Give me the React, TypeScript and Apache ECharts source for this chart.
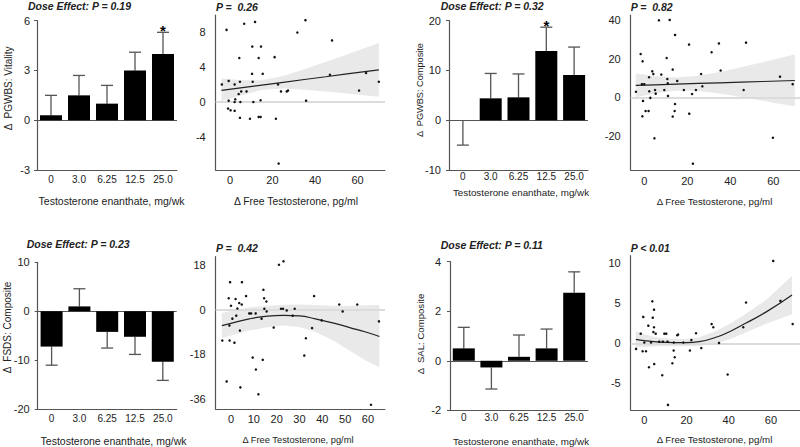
import React, { useEffect, useRef } from "react";
import * as echarts from "echarts";

const FONT = '"Liberation Sans", Arial, Helvetica, sans-serif';

// ---------- bar panels ----------
const doseLabels = ["0", "3.0", "6.25", "12.5", "25.0"];

const vitalityMean = [0.3, 1.5, 1.0, 3.0, 4.0];
const vitalityErr = [1.5, 2.7, 2.1, 4.1, 5.3];
const vitalitySig = [0, 0, 0, 0, 1];

const pgwbsMean = [0, 4.4, 4.6, 13.9, 9.1];
const pgwbsErr = [-5.0, 9.4, 9.3, 18.7, 14.7];
const pgwbsSig = [0, 0, 0, 1, 0];

const fsdsMean = [-7.2, 1.0, -4.2, -5.2, -10.3];
const fsdsErr = [-11.0, 4.6, -7.5, -8.8, -14.1];
const fsdsSig = [0, 0, 0, 0, 0];

const salMean = [0.5, -0.27, 0.16, 0.5, 2.75];
const salErr = [1.35, -1.14, 1.04, 1.28, 3.59];
const salSig = [0, 0, 0, 0, 0];

// ---------- scatter panels ----------
const vitalityPts = [
  [-1.6, 8.2], [6.7, 8.9], [11.8, 9.1], [35.5, 9.3], [31.7, 7.9], [48, 7.0], [10.5, 6.3], [14.6, 6.3],
  [4.4, 5.0], [13.5, 5.0], [21, 5.1], [10.4, 3.2], [15.4, 3.2], [47, 3.1], [64, 3.3], [-3.8, 2.0],
  [-0.6, 2.4], [2.2, 2.0], [4.7, 2.3], [10.7, 2.3], [22.6, 2.0], [24, 1.2], [26.7, 1.2], [27.3, 1.3],
  [5.3, 1.2], [7.8, 1.2], [4.1, 0.9], [2.5, 0.3], [-0.6, 0.15], [2.2, 0], [4.9, 0], [11, 0],
  [14.4, 0.2], [35.8, 0.15], [-0.9, -0.75], [0.3, -0.95], [2.2, -1.0], [4.7, -1.8], [9.4, -1.9],
  [13.5, -1.7], [14.4, -1.7], [21.6, -1.9], [22.9, -7.0], [60.7, 1.3], [70, 2.3],
];
const vitalityFitX = [-4, 5, 15, 25, 35, 45, 55, 70];
const vitalityFit = [1.32, 1.61, 1.92, 2.24, 2.56, 2.87, 3.19, 3.66];
const vitalityLo = [0.1, 0.74, 1.36, 1.53, 1.4, 1.2, 0.97, 0.61];
const vitalityHi = [2.7, 2.48, 2.48, 2.95, 3.72, 4.54, 5.41, 6.71];

const compositePts = [
  [-3.9, 2.9], [-1.7, 22.5], [-0.8, 18.7], [-1.1, 6.8], [0, 6.8], [-0.9, -9.9], [-0.6, -1.9], [0.6, -7.1],
  [2.0, -7.1], [2.2, 10.4], [2.3, 3.1], [2.8, -0.3], [3.7, 13.5], [4.2, 12.1], [5.0, 3.8], [4.7, -21.3],
  [5.3, 1.9], [6.8, 40], [7.9, 11.8], [9.3, 3.8], [10.4, 20.4], [10.7, 9.5], [10.9, 7.3], [11, 0.7],
  [11.8, 40.2], [13.2, 14.4], [13.2, -10], [14.3, 32.4], [14.3, -3.5], [14.1, -7.1], [15.3, 8.5],
  [18.4, 3.8], [20.8, 27.4], [20.9, -8.5], [22.2, 1.7], [22.6, -34.5], [24, 3.8], [26.4, 12.1],
  [27, 5.7], [31.3, 23.4], [34.7, 28], [35.5, 13.9], [46.2, 3.8], [47.3, 28.4], [59.8, -21],
  [63.1, 10.7], [69, 6.8],
];
const compositeFitX = [-4, 5, 15, 25, 35, 45, 55, 70];
const compositeFit = [6.19, 6.5, 6.84, 7.19, 7.53, 7.87, 8.21, 8.72];
const compositeLo = [-0.01, 2.0, 3.38, 3.24, 1.93, 0.17, -1.79, -4.78];
const compositeHi = [12.39, 11.0, 10.3, 11.14, 13.13, 15.57, 18.21, 22.22];

const fsdsPts = [
  [-3.8, -12.4], [-1.9, -28.9], [-1, 4.6], [-0.7, -6.4], [-0.6, -12.4], [-0.4, 11.1], [0, 1.6],
  [0.6, -3.6], [1.5, -13.3], [2, 4.3], [2.3, -2.4], [2.8, 0.5], [3.6, 2.7], [3.9, -8.4], [4.1, -31.3],
  [4.7, 2.1], [4.8, 11.1], [6.6, 5.5], [8.0, -1.5], [8.8, -1.5], [9.5, -19.3], [10.8, -1.5],
  [10.9, -24.1], [12, -34.1], [13.4, -3.6], [13.9, -20.2], [14.2, 8.0], [14.5, 4.6], [14.6, 0.4],
  [15.5, 3.3], [15.6, -0.7], [18.7, -7.2], [21, 18.1], [23, 19.5], [21.9, 0.4], [22.8, 0.4],
  [24.4, -0.3], [27, -2.4], [27.9, 0.4], [32.1, -18.5], [32.8, -11.5], [35.5, -7.4], [36.4, 5.5],
  [39.7, -4.3], [47.4, 2.1], [48.9, -0.7], [55.3, 2.1], [61.3, -38.3], [64.8, -4.7],
];
const fsdsFitX = [-4, 0, 8, 16, 23, 30, 37, 45, 52, 59, 65];
const fsdsFit = [-6.4, -5.5, -3.7, -2.6, -2.3, -2.5, -3.7, -5.4, -7.2, -9.0, -10.8];
const fsdsLo = [-11.5, -10.4, -8.4, -7.1, -6.4, -7.0, -9.0, -12.5, -16.5, -20.5, -23.2];
const fsdsHi = [-1.3, -0.4, 0.9, 1.6, 2.0, 2.1, 1.9, 1.6, 1.6, 1.8, 1.9];

const salPts = [
  [-3.9, -0.7], [-1.7, 1.2], [-0.8, -1], [-0.5, 3.3], [0, 0.1], [0.8, -1], [1.9, 2.2], [2.2, -3],
  [3.2, 0.1], [3.8, 5.25], [4, 3.2], [4.3, 1.4], [4.6, 4.2], [4.6, 2.0], [4.7, -2.6], [5.4, 1.2],
  [7.1, 0.2], [8.5, -4], [8.8, 0.2], [9.5, 1.2], [10.4, 1.2], [11, 0.2], [11.2, -7.7], [13.3, -2.5],
  [13.9, -0.9], [14.4, -1.75], [14, 0.1], [15.6, 1.0], [16, 1.1], [18.5, 0.1], [21.6, -0.9],
  [22.3, 0.4], [24.5, 1.25], [27, -0.6], [31.9, 2.4], [32.7, 2.0], [35.4, 0.05], [39.5, -3.9],
  [46.9, 2.0], [48.2, 5.1], [61.1, 10.3], [64.5, 5.3], [70.3, 2.4],
];
const salFitX = [-4, 0, 6, 14, 20, 26, 34, 42, 48, 58, 70];
const salFit = [0.5, 0.33, 0.17, 0.08, 0.08, 0.2, 0.75, 1.67, 2.5, 3.96, 6.04];
const salLo = [-0.5, -0.47, -0.38, -0.37, -0.37, -0.35, -0.05, 0.67, 1.35, 2.46, 3.64];
const salHi = [1.5, 1.13, 0.72, 0.53, 0.53, 0.75, 1.55, 2.67, 3.65, 5.46, 8.44];

// ---------- texts ----------
const barXTitle = "Testosterone enanthate, mg/wk";
const scatterXTitle = "Δ Free Testosterone, pg/ml";

const AXIS = "#555";
const TEXT = "#222";

type BarCfg = {
  grid: { left: number; top: number; width: number; height: number };
  mean: number[]; err: number[]; sig: number[];
  yMin: number; yMax: number; yInt: number; xMargin: number; yMargin: number;
};
type ScatCfg = {
  grid: { left: number; top: number; width: number; height: number };
  pts: number[][]; fx: number[]; fy: number[]; lo: number[]; hi: number[];
  xMin: number; xMax: number; yMin: number; yMax: number;
  xTicks: number[]; yTicks: number[]; smooth: boolean; xMargin: number;
};

const barPanels: BarCfg[] = [
  { grid: { left: 37, top: 20.7, width: 140, height: 149.3 }, mean: vitalityMean, err: vitalityErr, sig: vitalitySig, yMin: -3, yMax: 6, yInt: 3, xMargin: 4.5, yMargin: 7 },
  { grid: { left: 449, top: 20.7, width: 139, height: 149.3 }, mean: pgwbsMean, err: pgwbsErr, sig: pgwbsSig, yMin: -10, yMax: 20, yInt: 10, xMargin: 1.5, yMargin: 8 },
  { grid: { left: 37.7, top: 262.3, width: 139, height: 147 }, mean: fsdsMean, err: fsdsErr, sig: fsdsSig, yMin: -20, yMax: 10, yInt: 10, xMargin: 4, yMargin: 8 },
  { grid: { left: 450, top: 261.7, width: 138, height: 148.6 }, mean: salMean, err: salErr, sig: salSig, yMin: -2, yMax: 4, yInt: 2, xMargin: 2.5, yMargin: 9 },
];

const scatterPanels: ScatCfg[] = [
  { grid: { left: 215.7, top: 15, width: 169.3, height: 155 }, pts: vitalityPts, fx: vitalityFitX, fy: vitalityFit, lo: vitalityLo, hi: vitalityHi, xMin: -6.7, xMax: 72.9, yMin: -7.73, yMax: 9.89, xTicks: [0, 20, 40, 60], yTicks: [-4, 0, 4, 8], smooth: false, xMargin: 4.5 },
  { grid: { left: 630.7, top: 15, width: 172.3, height: 155 }, pts: compositePts, fx: compositeFitX, fy: compositeFit, lo: compositeLo, hi: compositeHi, xMin: -6.33, xMax: 73.8, yMin: -37.77, yMax: 42.75, xTicks: [0, 20, 40, 60], yTicks: [-20, 0, 20, 40], smooth: false, xMargin: 5 },
  { grid: { left: 215.7, top: 256.7, width: 169.3, height: 152.6 }, pts: fsdsPts, fx: fsdsFitX, fy: fsdsFit, lo: fsdsLo, hi: fsdsHi, xMin: -6.7, xMax: 67.45, yMin: -40.14, yMax: 21.36, xTicks: [0, 10, 20, 30, 40, 50, 60], yTicks: [-36, -18, 0, 18], smooth: true, xMargin: 4.5 },
  { grid: { left: 630.7, top: 255.7, width: 172.3, height: 154.3 }, pts: salPts, fx: salFitX, fy: salFit, lo: salLo, hi: salHi, xMin: -6.45, xMax: 75.2, yMin: -8.34, yMax: 10.95, xTicks: [0, 20, 40, 60], yTicks: [-5, 0, 5, 10], smooth: true, xMargin: 4.5 },
];

type T = { text: string; x: number; y: number; size: number; bold?: boolean; rot?: boolean; align?: string };
const texts: T[] = [
  { text: "Dose Effect: P = 0.19", x: 28, y: 6, size: 10.5, bold: true, align: "left" },
  { text: "Dose Effect: P = 0.32", x: 440.7, y: 6, size: 10.5, bold: true, align: "left" },
  { text: "Dose Effect: P = 0.23", x: 26.7, y: 244, size: 10.5, bold: true, align: "left" },
  { text: "Dose Effect: P = 0.11", x: 440.7, y: 245, size: 10.5, bold: true, align: "left" },
  { text: "P =  0.26", x: 216, y: 6.5, size: 10.5, bold: true, align: "left" },
  { text: "P =  0.82", x: 630.7, y: 6.5, size: 10.5, bold: true, align: "left" },
  { text: "P =  0.42", x: 216, y: 248.3, size: 10.5, bold: true, align: "left" },
  { text: "P < 0.01", x: 630.7, y: 248.3, size: 10.5, bold: true, align: "left" },
  { text: barXTitle, x: 111.5, y: 201, size: 10.5 },
  { text: barXTitle, x: 521, y: 192.7, size: 9.8 },
  { text: barXTitle, x: 113.5, y: 441, size: 10.5 },
  { text: barXTitle, x: 521, y: 441, size: 9.8 },
  { text: scatterXTitle, x: 296, y: 201, size: 10.4 },
  { text: scatterXTitle, x: 714.5, y: 201, size: 9.7 },
  { text: scatterXTitle, x: 298, y: 440, size: 9.3 },
  { text: scatterXTitle, x: 714.5, y: 439, size: 9.7 },
  { text: "Δ  PGWBS: Vitality", x: 8.3, y: 88.3, size: 10, rot: true },
  { text: "Δ  PGWBS: Composite", x: 419.5, y: 90, size: 9.2, rot: true },
  { text: "Δ  FSDS: Composite", x: 7.3, y: 327.5, size: 10, rot: true },
  { text: "Δ  SAL: Composite", x: 420.7, y: 334, size: 9.6, rot: true },
];

function buildOption() {
  const grid: any[] = [];
  const xAxis: any[] = [];
  const yAxis: any[] = [];
  const series: any[] = [];

  barPanels.forEach((p) => {
    const i = grid.length;
    grid.push({ ...p.grid, containLabel: false, outerBoundsMode: "none" });
    xAxis.push({
      gridIndex: i, type: "category", data: doseLabels,
      axisLine: { onZero: false, lineStyle: { color: AXIS, width: 1.2 } },
      axisTick: { show: false },
      axisLabel: { color: TEXT, fontSize: 10, fontFamily: FONT, margin: p.xMargin, interval: 0 },
      splitLine: { show: false },
    });
    yAxis.push({
      gridIndex: i, type: "value", min: p.yMin, max: p.yMax, interval: p.yInt,
      axisLine: { show: true, lineStyle: { color: AXIS, width: 1.2 } },
      axisTick: { show: true, length: 3, lineStyle: { color: AXIS } },
      axisLabel: { color: TEXT, fontSize: 11, fontFamily: FONT, margin: p.yMargin },
      splitLine: { show: false },
    });
    series.push({
      type: "bar", xAxisIndex: i, yAxisIndex: i, data: p.mean, barWidth: 22,
      itemStyle: { color: "#000" }, z: 3,
      markLine: {
        silent: true, symbol: "none", z: 2, label: { show: false },
        lineStyle: { color: AXIS, width: 1.2, type: "solid" },
        data: [{ yAxis: 0 }],
      },
    });
    const err = p.err, sig = p.sig;
    series.push({
      type: "custom", xAxisIndex: i, yAxisIndex: i, z: 2,
      data: p.mean.map((m, k) => [k, m, err[k], sig[k]]),
      encode: { x: 0, y: [1, 2] },
      renderItem: (params: any, api: any) => {
        const k = api.value(0), m = api.value(1), e = api.value(2), s = api.value(3);
        const a = api.coord([k, m]);
        const b = api.coord([k, e]);
        const st = { stroke: "#555", lineWidth: 1.3 };
        const children: any[] = [
          { type: "line", shape: { x1: a[0], y1: a[1], x2: b[0], y2: b[1] }, style: st },
          { type: "line", shape: { x1: b[0] - 6, y1: b[1], x2: b[0] + 6, y2: b[1] }, style: st },
        ];
        if (s) {
          children.push({
            type: "text", x: b[0], y: b[1] + 5.5,
            style: { text: "*", fill: "#000", fontSize: 15, fontWeight: "bold", fontFamily: FONT, align: "center", verticalAlign: "bottom" },
          });
        }
        return { type: "group", children };
      },
    });
  });

  scatterPanels.forEach((p) => {
    const i = grid.length;
    grid.push({ ...p.grid, containLabel: false, outerBoundsMode: "none" });
    xAxis.push({
      gridIndex: i, type: "value", min: p.xMin, max: p.xMax,
      axisLine: { onZero: false, lineStyle: { color: AXIS, width: 1.2 } },
      axisTick: { show: false },
      axisLabel: { color: TEXT, fontSize: 11, fontFamily: FONT, margin: p.xMargin, customValues: p.xTicks, showMinLabel: true, showMaxLabel: true, hideOverlap: false },
      splitLine: { show: false },
    });
    yAxis.push({
      gridIndex: i, type: "value", min: p.yMin, max: p.yMax,
      axisLine: { show: true, onZero: false, lineStyle: { color: AXIS, width: 1.2 } },
      axisTick: { show: false },
      axisLabel: { color: TEXT, fontSize: 11, fontFamily: FONT, margin: 10, customValues: p.yTicks, showMinLabel: true, showMaxLabel: true, hideOverlap: false },
      splitLine: { show: false },
    });
    const fx = p.fx, lo = p.lo, hi = p.hi;
    series.push({
      type: "custom", xAxisIndex: i, yAxisIndex: i, z: 1, silent: true,
      data: fx.map((x, k) => [x, lo[k], hi[k]]),
      encode: { x: 0, y: [1, 2] },
      renderItem: (params: any, api: any) => {
        if (params.dataIndex !== 0) return null;
        const pts: number[][] = [];
        for (let k = 0; k < fx.length; k++) pts.push(api.coord([fx[k], lo[k]]));
        for (let k = fx.length - 1; k >= 0; k--) pts.push(api.coord([fx[k], hi[k]]));
        return { type: "polygon", shape: { points: pts }, style: { fill: "#e9e9e9", stroke: "none" } };
      },
    });
    series.push({
      type: "line", xAxisIndex: i, yAxisIndex: i, z: 3, silent: true,
      data: fx.map((x, k) => [x, p.fy[k]]),
      smooth: p.smooth, symbol: "none",
      lineStyle: { color: "#222", width: 1.2 },
      markLine: {
        silent: true, symbol: "none", z: 2, label: { show: false },
        lineStyle: { color: "#dcdcdc", width: 2, type: "solid" },
        data: [{ yAxis: 0 }],
      },
    });
    series.push({
      type: "scatter", xAxisIndex: i, yAxisIndex: i, z: 4, silent: true,
      data: p.pts, symbolSize: 2.5, itemStyle: { color: "#111", opacity: 1 },
    });
  });

  const graphic = texts.map((t) => ({
    type: "text", x: t.x, y: t.y, rotation: t.rot ? Math.PI / 2 : 0, silent: true,
    style: {
      text: t.text, fill: TEXT, fontSize: t.size, fontFamily: FONT,
      fontWeight: t.bold ? "bold" : "normal", fontStyle: t.bold ? "italic" : "normal",
      align: t.align || "center", verticalAlign: "middle",
    },
  }));

  return {
    animation: false,
    backgroundColor: "#fff",
    grid, xAxis, yAxis, series, graphic,
    tooltip: { show: false },
  };
}

export default function App() {
  const ref = useRef<HTMLDivElement>(null);
  useEffect(() => {
    document.body.style.margin = "0";
    if (!ref.current) return;
    const chart = echarts.init(ref.current, undefined, { renderer: "svg" });
    chart.setOption(buildOption() as any);
    return () => chart.dispose();
  }, []);
  return (
    <div style={{ position: "fixed", left: 0, top: 0, width: 800, height: 447, overflow: "hidden", background: "#fff" }}>
      <div ref={ref} style={{ width: 800, height: 447 }} />
    </div>
  );
}
